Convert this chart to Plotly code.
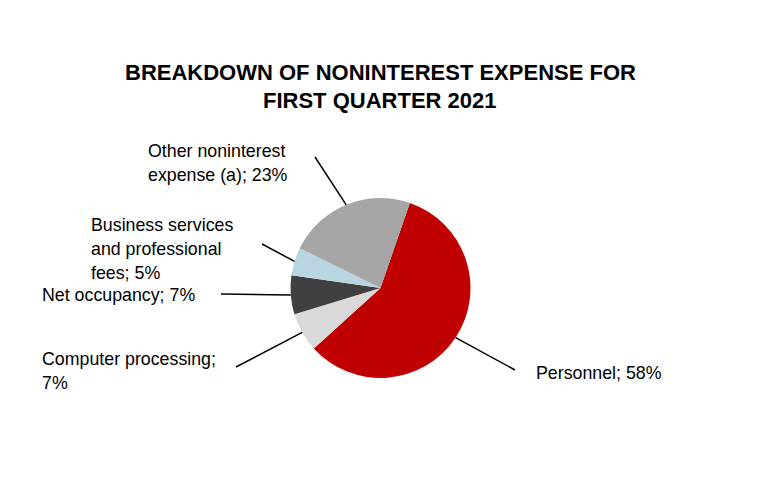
import math
import plotly.graph_objects as go

W, H = 760, 492
OFF = 8  # page body margin in the browser

# ---- data ----
labels = ["Personnel", "Computer processing", "Net occupancy",
          "Business services and professional fees", "Other noninterest expense (a)"]
values = [58, 7, 7, 5, 23]
colors = ["#C00000", "#D9D9D9", "#404040", "#B9D5E2", "#A6A6A6"]
label_lines = [["Personnel; 58%"],
               ["Computer processing;", "7%"],
               ["Net occupancy; 7%"],
               ["Business services", "and professional", "fees; 5%"],
               ["Other noninterest", "expense (a); 23%"]]
title_lines = ["BREAKDOWN OF NONINTEREST EXPENSE FOR", "FIRST QUARTER 2021"]

# ---- layout (screen pixels) ----
CX, CY, R = 380.5, 288, 90
ROTATION = 19
label_pos = [(534, 373), (40, 359), (40, 295), (89, 225), (146, 151)]  # left x, first-line centre y
line_end = [(515, 370), (236, 367), (221, 294), (262, 244), (315, 157)]
LINE_STEP = 24

def px(x):
    return (x - OFF) / W

def py(y):
    return 1 - (y - OFF) / H

fig = go.Figure(go.Pie(
    labels=labels, values=values, sort=False, direction="clockwise",
    rotation=ROTATION, textinfo="none", showlegend=False,
    marker=dict(colors=colors, line=dict(width=0)),
    domain=dict(x=[px(CX - R), px(CX + R)], y=[py(CY + R), py(CY - R)]),
))

total = sum(values)
cum = 0
shapes = []
annotations = []
for i, v in enumerate(values):
    mid = math.radians(ROTATION + (cum + v / 2) / total * 360)
    cum += v
    sx = CX + R * math.sin(mid)
    sy = CY - R * math.cos(mid)
    ex, ey = line_end[i]
    shapes.append(dict(type="line", xref="paper", yref="paper",
                       x0=px(sx), y0=py(sy), x1=px(ex), y1=py(ey),
                       line=dict(color="black", width=1.5)))
    lx, ly = label_pos[i]
    for j, t in enumerate(label_lines[i]):
        annotations.append(dict(text=t, xref="paper", yref="paper",
                                x=px(lx), y=py(ly + j * LINE_STEP),
                                xanchor="left", yanchor="middle", showarrow=False,
                                font=dict(size=17.8, color="black", family="Liberation Sans, Arial")))

for j, t in enumerate(title_lines):
    annotations.append(dict(text="<b>" + t + "</b>", xref="paper", yref="paper",
                            x=px(380), y=py(73 + j * 28),
                            xanchor="center", yanchor="middle", showarrow=False,
                            font=dict(size=22, color="black", family="Liberation Sans, Arial")))

fig.update_layout(width=W, height=H, margin=dict(l=0, r=0, t=0, b=0),
                  paper_bgcolor="white", plot_bgcolor="white",
                  shapes=shapes, annotations=annotations)

fig.write_html("out.html")
